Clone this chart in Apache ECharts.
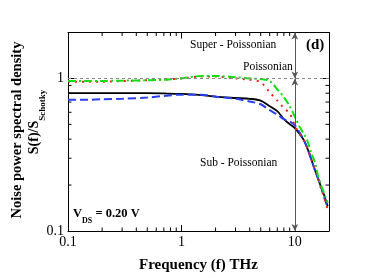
<!DOCTYPE html>
<html><head><meta charset="utf-8">
<script src="https://cdn.jsdelivr.net/npm/echarts@6/dist/echarts.min.js"></script>
<style>html,body{margin:0;padding:0;background:#fff}#c{width:382px;height:278px}</style>
</head><body><div id="c"></div>
<script>
const freq  = [0.1,0.15,0.2,0.3,0.5,0.7,1,1.5,2,3,4,5,6,7,8,9,10,11,12,13,14,15,16,17,18,19.5];
const black = [0.80,0.80,0.80,0.80,0.80,0.797,0.792,0.778,0.759,0.744,0.735,0.716,0.658,0.610,0.541,0.502,0.473,0.433,0.394,0.343,0.293,0.252,0.221,0.195,0.174,0.145];
const blue  = [0.725,0.725,0.73,0.735,0.749,0.768,0.783,0.783,0.759,0.735,0.706,0.677,0.619,0.580,0.541,0.522,0.493,0.443,0.394,0.343,0.293,0.252,0.221,0.195,0.169,0.142];
const green = [0.962,0.962,0.962,0.967,0.972,0.981,1.0,1.037,1.037,1.019,1.0,0.991,0.962,0.849,0.754,0.658,0.561,0.483,0.433,0.384,0.323,0.283,0.231,0.200,0.179,0.153];
const red   = [0.952,0.952,0.952,0.962,0.972,0.981,1.0,1.028,1.028,1.0,0.981,0.944,0.811,0.716,0.639,0.590,0.493,0.433,0.394,0.343,0.293,0.252,0.221,0.190,0.169,0.137];
const xMin = 0.1, xMax = 20, yMin = 0.1, yMax = 2;
const xMinorTicks = [0.2,0.3,0.4,0.5,0.6,0.7,0.8,0.9,2,3,4,5,6,7,8,9];
const yMinorTicks = [0.2,0.3,0.4,0.5,0.6,0.7,0.8,0.9];
const FONT = 'Liberation Serif';

const zip = (a) => freq.map((f,i)=>[f,a[i]]);
const isDecade = v => Math.abs(Math.log10(v) - Math.round(Math.log10(v))) < 1e-6;
const fmt = v => isDecade(v) ? String(+(+v).toPrecision(3)) : '';

const chart = echarts.init(document.getElementById('c'));
const axisCommon = {
  type:'log', logBase:10,
  axisLine:{show:true,lineStyle:{color:'#000',width:1}},
  axisTick:{show:true,inside:true,length:6,lineStyle:{color:'#000'}},
  splitLine:{show:false}
};
chart.setOption({
  animation:false,
  grid:{left:68,right:53,top:32.5,bottom:46.5},
  xAxis:[
    Object.assign({},axisCommon,{min:xMin,max:xMax,position:'bottom',
      axisLabel:{formatter:fmt,color:'#000',fontFamily:FONT,fontSize:14,margin:4},
      name:'Frequency (f) THz',nameLocation:'middle',nameGap:27,
      nameTextStyle:{fontFamily:FONT,fontWeight:'bold',fontSize:15,color:'#000'}}),
    Object.assign({},axisCommon,{min:xMin,max:xMax,position:'top',axisLabel:{show:false}})
  ],
  yAxis:[
    Object.assign({},axisCommon,{min:yMin,max:yMax,position:'left',
      axisLabel:{formatter:fmt,color:'#000',fontFamily:FONT,fontSize:14,margin:4}}),
    Object.assign({},axisCommon,{min:yMin,max:yMax,position:'right',axisLabel:{show:false}})
  ],
  series:[
    {type:'line',data:zip(black),showSymbol:false,smooth:0.3,
      lineStyle:{color:'#000',width:1.8},
      markLine:{silent:true,symbol:['arrow','arrow'],symbolSize:[5,7],label:{show:false},
        lineStyle:{color:'#555',width:1,type:'solid'},
        data:[[{coord:[10,1]},{coord:[10,yMax]}],[{coord:[10,1]},{coord:[10,yMin]}]]}},
    {type:'line',data:zip(blue),showSymbol:false,smooth:0.3,
      lineStyle:{color:'#2a3ff0',width:2,type:[8,4]},
      markLine:{silent:true,symbol:['none','none'],label:{show:false},
        lineStyle:{color:'#888',width:1,type:[3,3]},data:[{yAxis:1}]}},
    {type:'line',data:zip(red),showSymbol:false,smooth:0.3,
      lineStyle:{color:'#f02020',width:2,type:[2,5]}},
    {type:'line',data:zip(green),showSymbol:false,smooth:0.3,
      lineStyle:{color:'#10e010',width:2,type:[8,3,2,3]}},
    {type:'custom',data:xMinorTicks.map(v=>[v,1]),silent:true,
      renderItem:(params,api)=>{
        const p = api.coord([api.value(0),1]); const cs = params.coordSys;
        return {type:'group',children:[
          {type:'line',shape:{x1:p[0],y1:cs.y+cs.height,x2:p[0],y2:cs.y+cs.height-3.5},style:{stroke:'#000',lineWidth:1}},
          {type:'line',shape:{x1:p[0],y1:cs.y,x2:p[0],y2:cs.y+3.5},style:{stroke:'#000',lineWidth:1}}
        ]};
      }},
    {type:'custom',data:yMinorTicks.map(v=>[1,v]),silent:true,
      renderItem:(params,api)=>{
        const p = api.coord([1,api.value(1)]); const cs = params.coordSys;
        return {type:'group',children:[
          {type:'line',shape:{x1:cs.x,y1:p[1],x2:cs.x+3.5,y2:p[1]},style:{stroke:'#000',lineWidth:1}},
          {type:'line',shape:{x1:cs.x+cs.width,y1:p[1],x2:cs.x+cs.width-3.5,y2:p[1]},style:{stroke:'#000',lineWidth:1}}
        ]};
      }}
  ],
  graphic:[
    {type:'text',x:17,y:130,rotation:Math.PI/2,style:{text:'Noise power spectral density',
      fontFamily:FONT,fontWeight:'bold',fontSize:14.5,fill:'#000',align:'center',verticalAlign:'middle'}},
    {type:'text',x:37,y:122,rotation:Math.PI/2,style:{text:'{a|S(f)/S}{b|Schotky}',align:'center',verticalAlign:'middle',
      rich:{a:{fontFamily:FONT,fontWeight:'bold',fontSize:14,fill:'#000',lineHeight:20,verticalAlign:'top'},
            b:{fontFamily:FONT,fontWeight:'bold',fontSize:9,fill:'#000',lineHeight:20,verticalAlign:'bottom'}}}},
    {type:'text',x:190,y:45,style:{text:'Super - Poissonian',fontFamily:FONT,fontSize:11.5,fill:'#000',align:'left',verticalAlign:'middle'}},
    {type:'text',x:243,y:67,style:{text:'Poissonian',fontFamily:FONT,fontSize:11.5,fill:'#000',align:'left',verticalAlign:'middle'}},
    {type:'text',x:306,y:45,style:{text:'(d)',fontFamily:FONT,fontWeight:'bold',fontSize:15,fill:'#000',align:'left',verticalAlign:'middle'}},
    {type:'text',x:200,y:163,style:{text:'Sub - Poissonian',fontFamily:FONT,fontSize:11.5,fill:'#000',align:'left',verticalAlign:'middle'}},
    {type:'text',x:73,y:216,style:{text:'{a|V}{b|DS}{a| = 0.20 V}',align:'left',verticalAlign:'middle',
      rich:{a:{fontFamily:FONT,fontWeight:'bold',fontSize:12.5,fill:'#000',lineHeight:18,verticalAlign:'top'},
            b:{fontFamily:FONT,fontWeight:'bold',fontSize:8,fill:'#000',lineHeight:18,verticalAlign:'bottom'}}}}
  ]
});
</script></body></html>
